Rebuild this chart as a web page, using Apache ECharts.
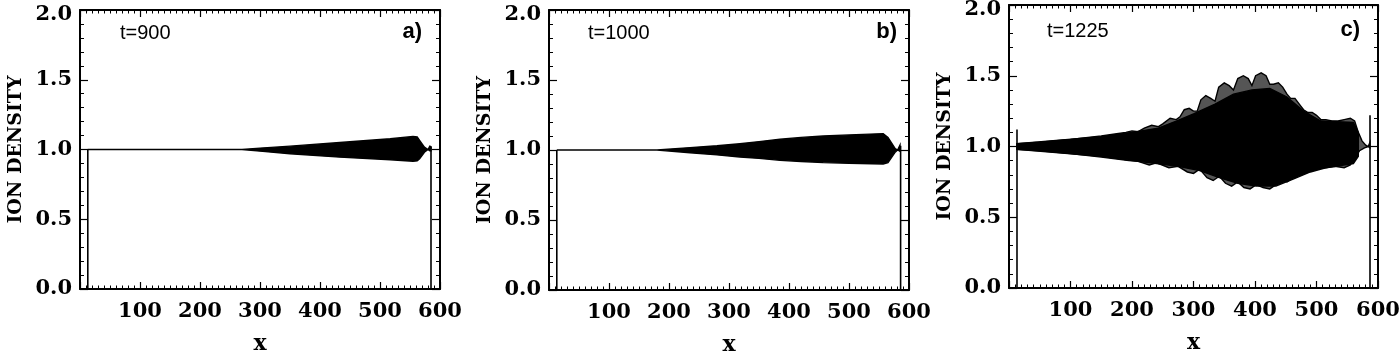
<!DOCTYPE html>
<html>
<head>
<meta charset="utf-8">
<script src="https://cdn.jsdelivr.net/npm/echarts@6/dist/echarts.min.js"></script>
<style>
  html, body { margin: 0; background: #fff; }
  #main { width: 1400px; height: 351px; }
</style>
</head>
<body>
<div id="main"></div>
<script>
// tick labels
const xTickValues = [100, 200, 300, 400, 500, 600];
const yTickValues = [0, 0.5, 1, 1.5, 2];
const panelTimes = ['t=900', 't=1000', 't=1225'];
const panelTags = ['a)', 'b)', 'c)'];

// a) t=900 : envelope of the ion density oscillation
const aUpper = [[13, 1.0], [270, 1.0], [300, 1.01], [350, 1.024], [433, 1.05], [517, 1.077], [555, 1.094], [562, 1.09], [566, 1.065], [574, 1.017], [580, 1.0], [583, 1.024], [585, 1.02]];
const aLower = [[13, 1.0], [270, 1.0], [300, 0.988], [350, 0.97], [433, 0.945], [517, 0.926], [555, 0.916], [562, 0.918], [566, 0.933], [574, 0.98], [580, 1.0], [583, 0.99], [585, 0.99]];
const aWallLeft = [[13, 0], [13, 1.0]];
const aWallRight = [[585, 1.02], [585, 0]];

// b) t=1000
const bUpper = [[13, 1.0], [180, 1.0], [235, 1.017], [280, 1.03], [318, 1.045], [350, 1.06], [385, 1.077], [420, 1.09], [457, 1.10], [500, 1.108], [557, 1.117], [565, 1.09], [577, 1.01], [581, 1.0], [585, 1.035]];
const bLower = [[13, 1.0], [180, 1.0], [235, 0.98], [280, 0.965], [318, 0.95], [350, 0.94], [385, 0.926], [420, 0.918], [457, 0.91], [500, 0.905], [557, 0.90], [565, 0.91], [577, 0.985], [581, 1.0], [585, 0.99]];
const bWallLeft = [[13, 0], [13, 1.0]];
const bWallRight = [[586, 1.03], [586, 0]];

// c) t=1225 : outer envelope (lobes) and solid core
const cUpper = [[13, 1.02], [50, 1.03], [100, 1.05], [150, 1.075], [175, 1.09], [190, 1.10], [200, 1.11], [210, 1.105], [220, 1.13], [232, 1.15], [243, 1.14], [250, 1.16], [262, 1.20], [272, 1.19], [278, 1.21], [285, 1.26], [293, 1.27], [300, 1.25], [306, 1.25], [312, 1.33], [320, 1.36], [328, 1.34], [335, 1.32], [341, 1.42], [350, 1.45], [358, 1.43], [365, 1.40], [372, 1.48], [381, 1.50], [389, 1.48], [395, 1.43], [401, 1.50], [410, 1.52], [418, 1.50], [424, 1.44], [430, 1.44], [438, 1.45], [445, 1.42], [452, 1.37], [458, 1.34], [465, 1.34], [472, 1.30], [479, 1.26], [486, 1.24], [493, 1.24], [500, 1.22], [507, 1.19], [515, 1.19], [525, 1.18], [535, 1.18], [545, 1.19], [555, 1.20], [562, 1.18], [568, 1.10], [574, 1.04], [580, 1.01], [584, 1.0], [587, 1.03]];
const cLower = [[13, 0.98], [50, 0.97], [100, 0.95], [150, 0.925], [195, 0.90], [210, 0.895], [228, 0.87], [240, 0.885], [260, 0.85], [275, 0.86], [290, 0.82], [300, 0.81], [310, 0.84], [322, 0.78], [332, 0.76], [342, 0.79], [352, 0.74], [362, 0.72], [372, 0.75], [382, 0.71], [392, 0.70], [402, 0.73], [413, 0.71], [424, 0.70], [434, 0.73], [443, 0.77], [452, 0.75], [462, 0.78], [470, 0.82], [480, 0.81], [490, 0.83], [497, 0.86], [505, 0.85], [515, 0.85], [530, 0.86], [545, 0.85], [555, 0.87], [562, 0.92], [570, 0.97], [578, 0.99], [584, 1.0], [587, 0.99]];
const cCoreUpper = [[13, 1.02], [150, 1.07], [200, 1.10], [243, 1.13], [272, 1.18], [300, 1.23], [335, 1.30], [365, 1.37], [395, 1.40], [424, 1.41], [452, 1.35], [479, 1.25], [507, 1.18], [560, 1.17], [568, 1.10]];
const cCoreLower = [[13, 0.98], [150, 0.93], [210, 0.895], [240, 0.88], [275, 0.86], [310, 0.83], [342, 0.78], [372, 0.74], [402, 0.72], [434, 0.72], [462, 0.77], [490, 0.82], [515, 0.85], [560, 0.88], [568, 0.93]];
const cWallLeft = [[13, 0], [13, 1.12]];
const cWallRight = [[587, 1.22], [587, 0]];

const grids = [
  { left: 80, top: 10, width: 360, height: 279 },
  { left: 549, top: 10, width: 360, height: 280 },
  { left: 1009, top: 5, width: 369, height: 283 }
];

const serifBold = { fontFamily: 'DejaVu Serif', fontWeight: 'bold', color: '#000' };

function xAxisFor(i, bottom) {
  return {
    gridIndex: i, type: 'value', min: 0, max: 600, interval: 100,
    position: bottom ? 'bottom' : 'top',
    axisLine: { show: true, onZero: false, lineStyle: { color: '#000', width: 2 } },
    axisTick: { show: true, inside: true, length: 7, lineStyle: { color: '#000', width: 1.2 } },
    minorTick: { show: true, splitNumber: 10, length: 3.5, lineStyle: { color: '#000', width: 1 } },
    splitLine: { show: false },
    axisLabel: {
      show: bottom, margin: 12, fontSize: 21, ...serifBold,
      formatter: v => xTickValues.includes(v) ? String(v) : ''
    },
    name: bottom ? 'x' : '', nameLocation: 'middle', nameGap: 44,
    nameTextStyle: { fontSize: 22, ...serifBold }
  };
}

function yAxisFor(i, left) {
  return {
    gridIndex: i, type: 'value', min: 0, max: 2, interval: 0.5,
    position: left ? 'left' : 'right',
    axisLine: { show: true, onZero: false, lineStyle: { color: '#000', width: 2 } },
    axisTick: { show: true, inside: true, length: 8, lineStyle: { color: '#000', width: 1.2 } },
    minorTick: { show: true, splitNumber: 5, length: 4, lineStyle: { color: '#000', width: 1 } },
    splitLine: { show: false },
    axisLabel: {
      show: left, margin: 8, fontSize: 21, ...serifBold,
      formatter: v => {
        if (!yTickValues.includes(v)) return '';
        // the top label sits a little lower, clear of the frame
        return v === 2 ? '{top|' + v.toFixed(1) + '}' : v.toFixed(1);
      },
      rich: { top: { fontSize: 21, ...serifBold, padding: [10, 0, 0, 0] } }
    },
    name: left ? 'ION DENSITY' : '', nameLocation: 'middle', nameRotate: 90, nameGap: 54,
    nameTextStyle: { fontSize: 19, ...serifBold }
  };
}

function envelopeSeries(i, upper, lower, fill, stroke) {
  const pts = upper.concat(lower.slice().reverse());
  return {
    type: 'custom', xAxisIndex: 2 * i, yAxisIndex: 2 * i, silent: true,
    data: [[300, 1]],
    renderItem: (params, api) => ({
      type: 'polygon',
      shape: { points: pts.map(p => api.coord(p)) },
      style: { fill: fill, stroke: stroke, lineWidth: 1.4 }
    })
  };
}

function wallSeries(i, pts) {
  return {
    type: 'line', xAxisIndex: 2 * i, yAxisIndex: 2 * i, data: pts,
    symbol: 'none', silent: true,
    lineStyle: { color: '#000', width: 1.6 }
  };
}

const xAxes = [], yAxes = [];
grids.forEach((g, i) => {
  xAxes.push(xAxisFor(i, true), xAxisFor(i, false));
  yAxes.push(yAxisFor(i, true), yAxisFor(i, false));
});

const series = [
  envelopeSeries(0, aUpper, aLower, '#000', '#000'),
  wallSeries(0, aWallLeft), wallSeries(0, aWallRight),
  envelopeSeries(1, bUpper, bLower, '#000', '#000'),
  wallSeries(1, bWallLeft), wallSeries(1, bWallRight),
  envelopeSeries(2, cUpper, cLower, '#555', '#000'),
  envelopeSeries(2, cCoreUpper, cCoreLower, '#000', '#000'),
  wallSeries(2, cWallLeft), wallSeries(2, cWallRight)
];

// text positions inside each panel
const timePos = [[120, 33], [588, 33], [1047, 31]];
const tagPos = [[422, 32], [897, 32], [1360, 30]];
const graphics = [];
panelTimes.forEach((t, i) => {
  graphics.push({
    type: 'text', x: timePos[i][0], y: timePos[i][1],
    style: { text: t, font: '20px "Liberation Sans"', fill: '#000', align: 'left', verticalAlign: 'middle' }
  });
  graphics.push({
    type: 'text', x: tagPos[i][0], y: tagPos[i][1],
    style: { text: panelTags[i], font: 'bold 22px "Liberation Sans"', fill: '#000', align: 'right', verticalAlign: 'middle' }
  });
});

const chart = echarts.init(document.getElementById('main'), null, { renderer: 'canvas' });
chart.setOption({
  animation: false,
  backgroundColor: '#fff',
  grid: grids.map(g => ({ ...g, containLabel: false, outerBoundsMode: 'none' })),
  xAxis: xAxes,
  yAxis: yAxes,
  series: series,
  graphic: graphics
});
</script>
</body>
</html>
